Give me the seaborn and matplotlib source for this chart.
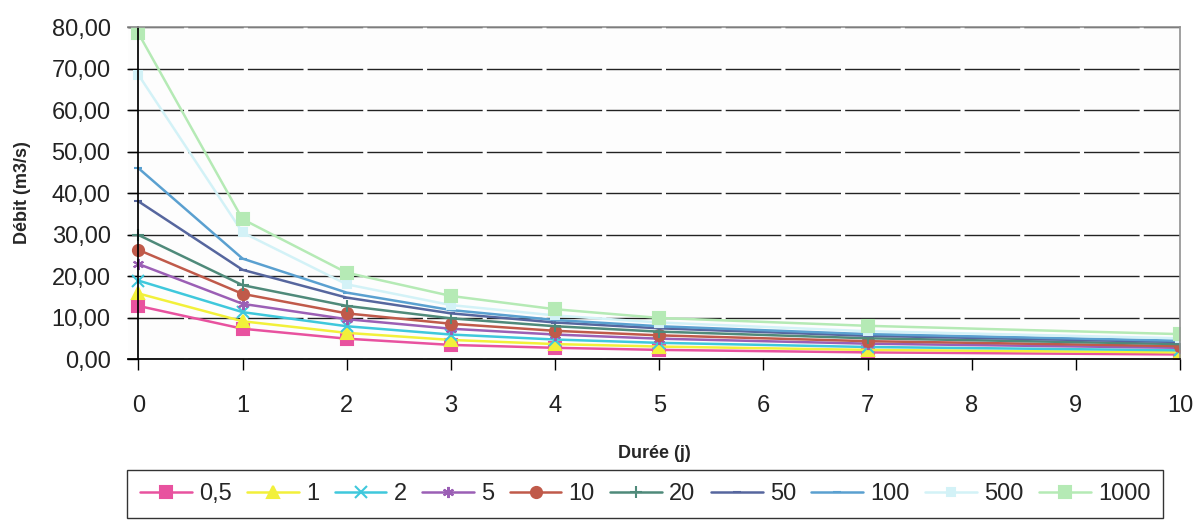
import matplotlib
matplotlib.use('Agg')
import matplotlib.pyplot as plt
import pandas as pd
import seaborn as sns
from matplotlib.ticker import FuncFormatter, MultipleLocator

# durée (jours) et débits (m3/s) par période de retour
durees = [0, 1, 2, 3, 4, 5, 7, 10]
periodes = ['0,5', '1', '2', '5', '10', '20', '50', '100', '500', '1000']
q_05 = [12.8, 7.3, 4.9, 3.4, 2.7, 2.2, 1.6, 1.1]
q_1 = [15.8, 9.1, 6.3, 4.6, 3.6, 3.0, 2.2, 1.6]
q_2 = [18.9, 11.3, 7.9, 5.9, 4.7, 3.9, 2.9, 2.1]
q_5 = [22.9, 13.3, 9.6, 7.3, 5.9, 4.9, 3.7, 2.7]
q_10 = [26.3, 15.7, 11.0, 8.5, 6.8, 5.7, 4.3, 3.1]
q_20 = [29.9, 17.8, 12.8, 9.8, 7.9, 6.6, 5.0, 3.6]
q_50 = [38.0, 21.5, 14.8, 11.0, 8.8, 7.4, 5.6, 4.1]
q_100 = [46.0, 24.2, 16.0, 11.8, 9.4, 7.9, 6.0, 4.4]
q_500 = [68.5, 30.5, 18.0, 13.0, 10.5, 8.8, 6.7, 5.0]
q_1000 = [78.5, 33.7, 20.8, 15.2, 12.0, 9.9, 8.0, 6.0]

series = [q_05, q_1, q_2, q_5, q_10, q_20, q_50, q_100, q_500, q_1000]
colors = ['#e8529f', '#f2f03a', '#3fc8dc', '#9b5fb5', '#c05a4a',
          '#4f8a7a', '#56669e', '#5aa0d0', '#d3f2f7', '#b5eab5']
markers = ['s', '^', 'x', (6, 2, 0), 'o', '+', '_', '_', 's', 's']
msizes = [8, 8, 8, 8, 8, 9, 6, 6, 6, 8]

df = pd.DataFrame({
    'duree': durees * len(periodes),
    'debit': [v for s in series for v in s],
    'periode': [p for p in periodes for _ in durees],
})

sns.set_theme(style='white')
plt.rcParams['font.family'] = ['Liberation Sans', 'DejaVu Sans']

fig = plt.figure(figsize=(11.97, 5.30), dpi=100)
ax = fig.add_axes([0.1069, 0.3226, 0.8789, 0.6264])
ax.set_facecolor('#fdfdfd')

for p, c, m, ms in zip(periodes, colors, markers, msizes):
    sub = df[df['periode'] == p]
    sns.lineplot(data=sub, x='duree', y='debit', color=c, marker=m,
                 markersize=ms, markeredgecolor=c, markeredgewidth=1.5,
                 linewidth=1.8, label=p, ax=ax, legend=False)

ax.set_xlim(-0.1, 10)
ax.set_ylim(0, 80)
ax.xaxis.set_major_locator(MultipleLocator(1))
ax.yaxis.set_major_locator(MultipleLocator(10))
ax.yaxis.set_major_formatter(FuncFormatter(lambda v, _: f'{v:.2f}'.replace('.', ',')))
ax.grid(axis='y', color='#222222', linestyle=(0, (40, 3)), linewidth=1)
ax.grid(axis='x', visible=False)

for s in ['top', 'right']:
    ax.spines[s].set_color('#909090')
    ax.spines[s].set_linewidth(1.2)
ax.spines['left'].set_position(('data', 0))
ax.spines['left'].set_color('black')
ax.spines['bottom'].set_color('black')
ax.tick_params(axis='both', direction='out', length=8, width=1, color='black',
               labelsize=17, colors='#222222', left=True, bottom=True)
ax.tick_params(axis='x', pad=18)
ax.tick_params(axis='y', pad=12)

ax.set_xlabel('Durée (j)', fontsize=13, fontweight='bold', labelpad=20)
ax.set_ylabel('Débit (m3/s)', fontsize=13, fontweight='bold')
ax.yaxis.set_label_coords(-0.092, 0.5)

handles, labels = ax.get_legend_handles_labels()
leg = fig.legend(handles, labels, loc='lower center', bbox_to_anchor=(0.539, 0.0),
                 ncol=10, fontsize=17, frameon=True, fancybox=False,
                 edgecolor='black', handlelength=2.2, handletextpad=0.3,
                 columnspacing=0.65, borderpad=0.55)
leg.get_frame().set_linewidth(1.0)

fig.savefig('out.png', dpi=100)
